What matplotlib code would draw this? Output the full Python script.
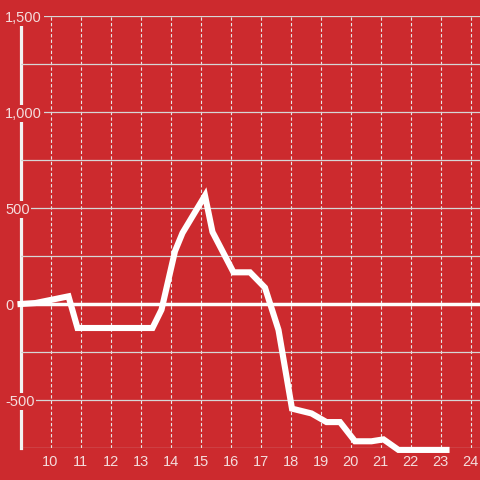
import matplotlib
matplotlib.use("Agg")
import matplotlib.pyplot as plt

# hourly profile (hour of day, value)
hours = [9.0, 9.5, 10.6, 10.9, 13.4, 13.7, 14.15, 14.4, 15.15, 15.4, 16.1, 16.65,
         17.15, 17.6, 18.05, 18.7, 19.2, 19.65, 20.15, 20.7, 21.1, 21.6, 23.2]
values = [0, 5, 40, -125, -125, -30, 275, 370, 565, 375, 165, 165,
          85, -135, -545, -570, -615, -615, -715, -715, -705, -760, -760]

x_ticks = list(range(10, 25))
y_ticks = [-500, 0, 500, 1000, 1500]
y_labels = ["-500", "0", "500", "1,000", "1,500"]
y_minor = [-750, -250, 250, 750, 1250]

red = "#cc2a2e"
label_color = "#f4dcdc"

plt.rcParams["font.family"] = ["Liberation Sans", "DejaVu Sans"]

fig = plt.figure(figsize=(4.8, 4.8), dpi=100, facecolor=red)
ax = fig.add_axes([20.5 / 480, 32 / 480, 459.5 / 480, 432 / 480])
ax.set_facecolor(red)

ax.set_xlim(9, 9 + 459.5 / 30)
ax.set_ylim(-750, 1500)

for s in ax.spines.values():
    s.set_visible(False)

# left axis line and zero baseline
ax.axvline(9, color="#f2f2f2", lw=2.3, zorder=1, clip_on=False)
ax.axhline(0, color="white", lw=2.5, zorder=1.6)

ax.set_xticks(x_ticks)
ax.set_yticks(y_ticks)
ax.set_yticks(y_minor, minor=True)
ax.set_yticklabels(y_labels)

ax.xaxis.grid(True, color="#e6e6e6", lw=0.8, linestyle=(0, (3, 2)))
ax.yaxis.grid(True, which="both", color="#d6d6d6", lw=0.9)

ax.tick_params(axis="x", length=0, pad=5, labelsize=10.5, colors=label_color)
ax.tick_params(axis="y", which="both", length=0, pad=11, labelsize=10.5, colors=label_color)
for lab in ax.get_yticklabels():
    lab.set_horizontalalignment("left")
    lab.set_bbox(dict(facecolor=red, edgecolor="none", pad=1.2))

ax.plot(hours, values, color="white", lw=4.4, solid_joinstyle="miter",
        zorder=3, clip_on=False)

fig.savefig("out.png", dpi=100, facecolor=red)
